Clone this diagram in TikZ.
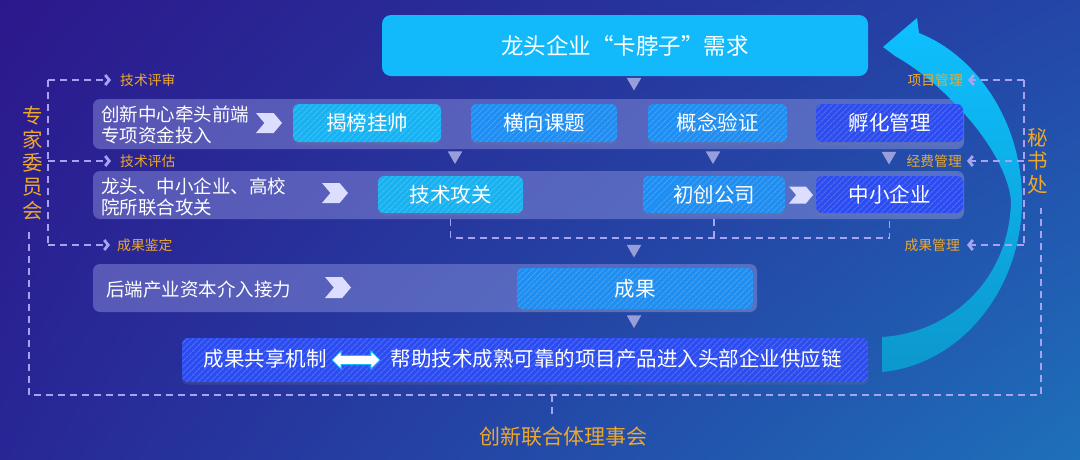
\documentclass[tikz,border=0pt]{standalone}
\usepackage{fontspec}
\setmainfont{Noto Sans CJK SC}
\newfontfamily\fwfont[RawFeature=+fwid]{Noto Sans CJK SC}
\usepackage{tikz}
\usetikzlibrary{arrows.meta, positioning, calc, patterns.meta, shadings, shadows, shapes.geometric, shapes.symbols, shapes.arrows}
\definecolor{bgul}{RGB}{44,24,140}
\definecolor{bgur}{RGB}{36,70,168}
\definecolor{bgll}{RGB}{40,38,150}
\definecolor{bglr}{RGB}{30,112,186}
\definecolor{mycyan}{RGB}{18,186,252}
\definecolor{mysky}{RGB}{22,178,242}
\definecolor{mymid}{RGB}{30,142,242}
\definecolor{myroyal}{RGB}{44,76,240}
\definecolor{myband}{RGB}{160,165,235}
\definecolor{myorange}{RGB}{236,168,44}
\definecolor{mydash}{RGB}{166,162,244}
\definecolor{mytri}{RGB}{152,158,218}
\definecolor{mychev}{RGB}{220,222,255}
\definecolor{arcup}{RGB}{14,192,255}
\definecolor{arclow}{RGB}{12,152,204}
\tikzset{
  Chev/.tip={Straight Barb[length=4pt, width=10pt, line width=2.8pt]},
  band/.style={fill=myband, fill opacity=0.4, rounded corners=7pt},
  topbox/.style={rectangle, fill=mycyan, rounded corners=9pt, text=white, minimum width=486pt, minimum height=61pt, font=\fwfont\fontsize{22.5}{26}\selectfont},
  hbox/.style={rectangle, fill=#1, rounded corners=6pt, text=white, inner sep=0pt, font=\fontsize{20.5}{24}\selectfont, drop shadow={opacity=0.22, shadow xshift=0pt, shadow yshift=-2.5pt}, postaction={pattern={Lines[angle=45, distance=4pt, line width=1.1pt]}, pattern color=#1!82!white}},
  bandtxt/.style={text=white, align=left, inner sep=0pt, font=\fontsize{18.5}{21}\selectfont},
  lab/.style={text=myorange, inner sep=1pt, font=\fontsize{13.8}{16}\selectfont},
  vlab/.style={text=myorange, align=center, inner sep=0pt, font=\fontsize{20.5}{23.6}\selectfont},
  tri/.style={regular polygon, regular polygon sides=3, shape border rotate=180, fill=mytri, inner sep=0pt, minimum size=17pt},
  bigchev/.style={signal, signal from=west, signal to=east, signal pointer angle=100, fill=mychev, inner sep=0pt, minimum width=26pt, minimum height=20pt},
  dline/.style={draw=mydash, line width=1.8pt, dash pattern=on 7pt off 5pt},
  dbl/.style={double arrow, double arrow head extend=4.5pt, fill=white, draw=mycyan, line width=0.9pt, inner xsep=0pt, inner ysep=4.2pt, minimum width=18pt, minimum height=48pt}
}
\begin{document}
\begin{tikzpicture}[x=1pt, y=-1pt]
  % Background
  \shade[upper left=bgul, upper right=bgur, lower left=bgll, lower right=bglr] (0,0) rectangle (1080,459);
  \useasboundingbox (0,0) rectangle (1080,459);

  % Bands
  \fill[band] (93,99) rectangle (964,149);
  \fill[band] (93,171) rectangle (964,219);
  \fill[band] (93,264) rectangle (757,312);

  % Return arrow
  \shade[top color=arcup, bottom color=arclow] (883,47) -- (917,18) -- (919,33)
    .. controls (975,55) and (1022,120) .. (1022,200)
    .. controls (1022,290) and (960,365) .. (882,372) -- (882,337)
    .. controls (950,333) and (1010,280) .. (1011,200)
    .. controls (1005,148) and (942,82) .. (895,56) -- cycle;

  % Demand
  \node[topbox] (need) at (625,45.5) {龙头企业“卡脖子”需求};
  \node[tri] (t0) at (634,82) {};

  % Row 1
  \node[bandtxt, anchor=west] (r1txt) at (101,124.5) {创新中心牵头前端\\专项资金投入};
  \node[bigchev] (c1) at (269,123) {};
  \node[hbox=mysky, minimum width=148pt, minimum height=38pt] (jbgs) at (367,123) {揭榜挂帅};
  \node[hbox=mymid, minimum width=146pt, minimum height=38pt] (hxkt) at (544,123) {横向课题};
  \node[hbox=mymid, minimum width=139pt, minimum height=38pt] (gnyz) at (717.5,123) {概念验证};
  \node[hbox=myroyal, minimum width=147pt, minimum height=38pt] (fhgl) at (889.5,123) {孵化管理};
  \node[tri] (t1) at (455,155.5) {};
  \node[tri] (t2) at (713,155.5) {};
  \node[tri] (t3) at (889,156) {};

  % Row 2
  \node[bandtxt, anchor=west] (r2txt) at (101,196.5) {龙头、中小企业、高校\\院所联合攻关};
  \node[bigchev] (c2) at (335,193) {};
  \node[hbox=mysky, minimum width=145pt, minimum height=37pt] (jsgg) at (450.5,194.5) {技术攻关};
  \node[hbox=mymid, minimum width=142pt, minimum height=37pt] (ccgs) at (714,194.5) {初创公司};
  \node[bigchev, minimum width=24pt, minimum height=17pt] (c3) at (801,195) {};
  \node[hbox=myroyal, minimum width=147pt, minimum height=37pt] (zxqy) at (889.5,194.5) {中小企业};
  \draw[dline] ($(jsgg.south)+(0,6)$) -- ++(0,19) coordinate (bl) -| ($(zxqy.south)+(0,6)$);
  \draw[dline] ($(ccgs.south)+(0,6)$) -- (ccgs.south |- bl);
  \node[tri] (t4) at (634,249) {};

  % Row 3
  \node[bandtxt, anchor=west] (r3txt) at (106,289) {后端产业资本介入接力};
  \node[bigchev, minimum height=21pt] (c4) at (338,287.5) {};
  \node[hbox=mymid, minimum width=236pt, minimum height=41pt] (cg) at (635,288.5) {成果};
  \node[tri] (t5) at (634,319.5) {};

  % Result sharing
  \node[hbox=myroyal, minimum width=686pt, minimum height=44pt] (share) at (525,360) {};
  \node[text=white, inner sep=0pt, font=\fontsize{20.5}{24}\selectfont] (gxjz) at (265,359) {成果共享机制};
  \node[dbl] (dar) at (356,360) {};
  \node[text=white, inner sep=0pt, font=\fontsize{20.5}{24}\selectfont] (gyl) at (616,359) {帮助技术成熟可靠的项目产品进入头部企业供应链};

  % Expert committee
  \node[vlab] (zjwyh) at (33,163) {专\\家\\委\\员\\会};
  \coordinate (kl1) at (48,80);
  \coordinate (kl2) at (48,161);
  \coordinate (kl3) at (48,245);
  \node[lab, anchor=west] (jsps) at (119,80) {技术评审};
  \node[lab, anchor=west] (jspg) at (119,161) {技术评估};
  \node[lab, anchor=west] (cgjd) at (116,245) {成果鉴定};
  \draw[dline] (kl1) -- (kl3);
  \draw[dline, -Chev, shorten >=8pt] (kl1) -- (jsps.west);
  \draw[dline, -Chev, shorten >=8pt] (kl2) -- (jspg.west);
  \draw[dline, -Chev, shorten >=6pt] (kl3) -- (cgjd.west);

  % Secretariat
  \node[vlab] (msc) at (1038,161) {秘\\书\\处};
  \coordinate (kr1) at (1024,80);
  \coordinate (kr2) at (1024,161);
  \coordinate (kr3) at (1024,245);
  \node[lab, anchor=east] (xmgl) at (964,80) {项目管理};
  \node[lab, anchor=east] (jfgl) at (963,161) {经费管理};
  \node[lab, anchor=east] (cggl) at (961,245) {成果管理};
  \draw[dline] (kr1) -- (kr3);
  \draw[dline, -Chev, shorten >=4pt] (kr1) -- (xmgl.east);
  \draw[dline, -Chev, shorten >=4pt] (kr2) -- (jfgl.east);
  \draw[dline, -Chev, shorten >=6pt] (kr3) -- (cggl.east);

  % Council
  \coordinate (ol) at (29,232);
  \coordinate (obl) at (29,395);
  \coordinate (obr) at (1041,395);
  \coordinate (or) at (1041,208);
  \coordinate (ob) at (552,395);
  \draw[dline] (ol) -- (obl) -- (obr) -- (or);
  \node[vlab, font=\fontsize{21}{24}\selectfont] (lsh) at (563,437) {创新联合体理事会};
  \draw[dline] (ob) -- ++(0,20);
\end{tikzpicture}
\end{document}
